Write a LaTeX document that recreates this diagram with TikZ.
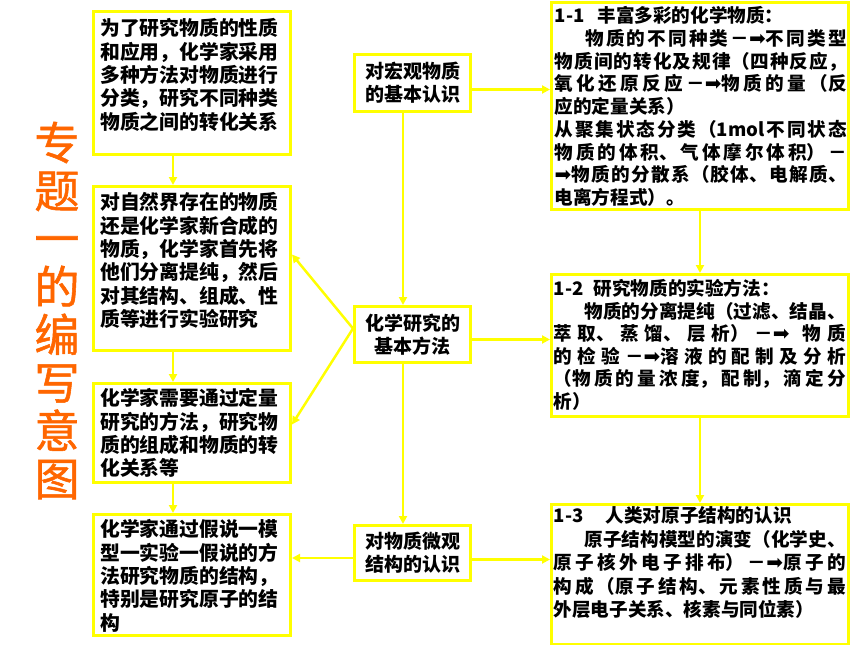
\documentclass[tikz,border=0pt]{standalone}
\usepackage{fontspec}
\setmainfont{Noto Sans CJK SC}
\newfontfamily\arrowfont{DejaVu Sans}
\newfontfamily\titlefont{Noto Sans CJK SC}[UprightFeatures={FakeBold=1.2}]
\usetikzlibrary{arrows.meta}
\XeTeXlinebreaklocale "zh"
\XeTeXlinebreakskip=0pt plus 5pt
\definecolor{ylw}{RGB}{255,255,0}
\definecolor{org}{RGB}{255,102,0}
\newcommand{\harr}{{\arrowfont\mdseries\fontsize{20}{20}\selectfont ➡}}
\newcommand{\rarr}{－\harr}
\tikzset{
  box/.style={draw=ylw, line width=3pt, inner sep=0pt, anchor=north west},
  mbox/.style={box, align=center, minimum width=116pt, font=\bfseries\fontsize{19}{23}\selectfont},
  arr/.style={draw=ylw, line width=2.5pt, -{Triangle[length=8pt,width=8pt]}},
  ltxt/.style={anchor=north west, inner sep=0pt, align=left, font=\bfseries\fontsize{19.8}{23.3}\selectfont},
  rtxt/.style={anchor=north west, inner sep=0pt, text width=292pt, align=justify, font=\bfseries\fontsize{18.6}{22.7}\selectfont},
}
\begin{document}
\begin{tikzpicture}[x=1pt,y=-1pt]
\useasboundingbox (0,0) rectangle (860,645);
% title
\node[font=\titlefont\mdseries\fontsize{45}{48}\selectfont, text=org, align=center, inner sep=0pt] (title) at (57,310.5) {专\\题\\一\\的\\编\\写\\意\\图};
% left boxes
\node[box, minimum width=197pt, minimum height=143pt] (L1) at (92,10) {};
\node[box, minimum width=197pt, minimum height=164pt] (L2) at (92,185) {};
\node[box, minimum width=197pt, minimum height=99pt] (L3) at (92,382) {};
\node[box, minimum width=197pt, minimum height=121pt] (L4) at (92,513) {};
\node[ltxt] (tL1) at ([shift={(8,8.6)}]L1.north west) {为了研究物质的性质\\和应用，化学家采用\\多种方法对物质进行\\分类，研究不同种类\\物质之间的转化关系};
\node[ltxt] (tL2) at ([shift={(8,7.6)}]L2.north west) {对自然界存在的物质\\还是化学家新合成的\\物质，化学家首先将\\他们分离提纯，然后\\对其结构、组成、性\\质等进行实验研究};
\node[ltxt] (tL3) at ([shift={(8,6.6)}]L3.north west) {化学家需要通过定量\\研究的方法，研究物\\质的组成和物质的转\\化关系等};
\node[ltxt] (tL4) at ([shift={(8,6.6)}]L4.north west) {化学家通过假说一模\\型一实验一假说的方\\法研究物质的结构，\\特别是研究原子的结\\构};
% middle boxes
\node[mbox, minimum height=57pt] (M1) at (353,53) {对宏观物质\\的基本认识};
\node[mbox, minimum height=56pt] (M2) at (353,305) {化学研究的\\基本方法};
\node[mbox, minimum height=55pt] (M3) at (353,524) {对物质微观\\结构的认识};
% right boxes
\node[box, minimum width=297pt, minimum height=207pt] (R1) at (550,1) {};
\node[box, minimum width=297pt, minimum height=142pt] (R2) at (550,273) {};
\node[box, minimum width=297pt, minimum height=140pt] (R3) at (550,503) {};
\node[rtxt] (tR1) at ([shift={(4.5,5.5)}]R1.north west) {1-1\hspace*{0.7em}丰富多彩的化学物质：\\
\hspace*{1.65em}物质的不同种类\rarr 不同类型\linebreak
物质间的转化及规律（四种反应，\linebreak
氧化还原反应\rarr 物质的量（反\linebreak
应的定量关系）\\
从聚集状态分类（1mol不同状态\linebreak
物质的体积、气体摩尔体积）－\linebreak
\harr 物质的分散系（胶体、电解质、\linebreak
电离方程式）。};
\node[rtxt, font=\bfseries\fontsize{18.6}{22.5}\selectfont] (tR2) at ([shift={(3.5,6.5)}]R2.north west) {1-2\hspace*{0.55em}研究物质的实验方法：\\
\hspace*{1.65em}物质的分离提纯（过滤、结晶、\linebreak
萃取、蒸馏、层析）\rarr\ \ 物质\linebreak
的检验\rarr 溶液的配制及分析\linebreak
（物质的量浓度，配制，滴定分\linebreak
析）};
\node[rtxt, font=\bfseries\fontsize{18.6}{23.5}\selectfont] (tR3) at ([shift={(3.5,3.5)}]R3.north west) {1-3\hspace*{1.2em}人类对原子结构的认识\\
\hspace*{1.65em}原子结构模型的演变（化学史、\linebreak
原子核外电子排布）\rarr 原子的\linebreak
构成（原子结构、元素性质与最\linebreak
外层电子关系、核素与同位素）};
% connectors
\draw[arr] ([xshift=81pt]L1.south west) -- ([xshift=81pt]L2.north west);
\draw[arr] ([xshift=81pt]L2.south west) -- ([xshift=81pt]L3.north west);
\draw[arr] ([xshift=81pt]L3.south west) -- ([xshift=81pt]L4.north west);
\draw[arr] ([xshift=50pt]M1.south west) -- ([xshift=50pt]M2.north west);
\draw[arr] ([xshift=50pt]M2.south west) -- ([xshift=50pt]M3.north west);
\draw[arr] (R1.south) -- (R2.north);
\draw[arr] (R2.south) -- (R3.north);
\coordinate (a1) at ([yshift=-6.5pt]M1.east);
\coordinate (a2) at ([yshift=-5pt]M2.east);
\coordinate (a3) at ([yshift=-6.5pt]M3.east);
\coordinate (a4) at ([yshift=-5pt]M3.west);
\coordinate (a5) at ([yshift=6pt]M2.west);
\draw[arr] (a1) -- (a1 -| R1.west);
\draw[arr] (a2) -- (a2 -| R2.west);
\draw[arr] (a3) -- (a3 -| R3.west);
\draw[arr] (a4) -- (a4 -| L4.east);
\draw[arr] (a5) -- ([yshift=14pt]L2.east);
\draw[arr] (a5) -- ([yshift=8.5pt]L3.east);
\end{tikzpicture}
\end{document}
